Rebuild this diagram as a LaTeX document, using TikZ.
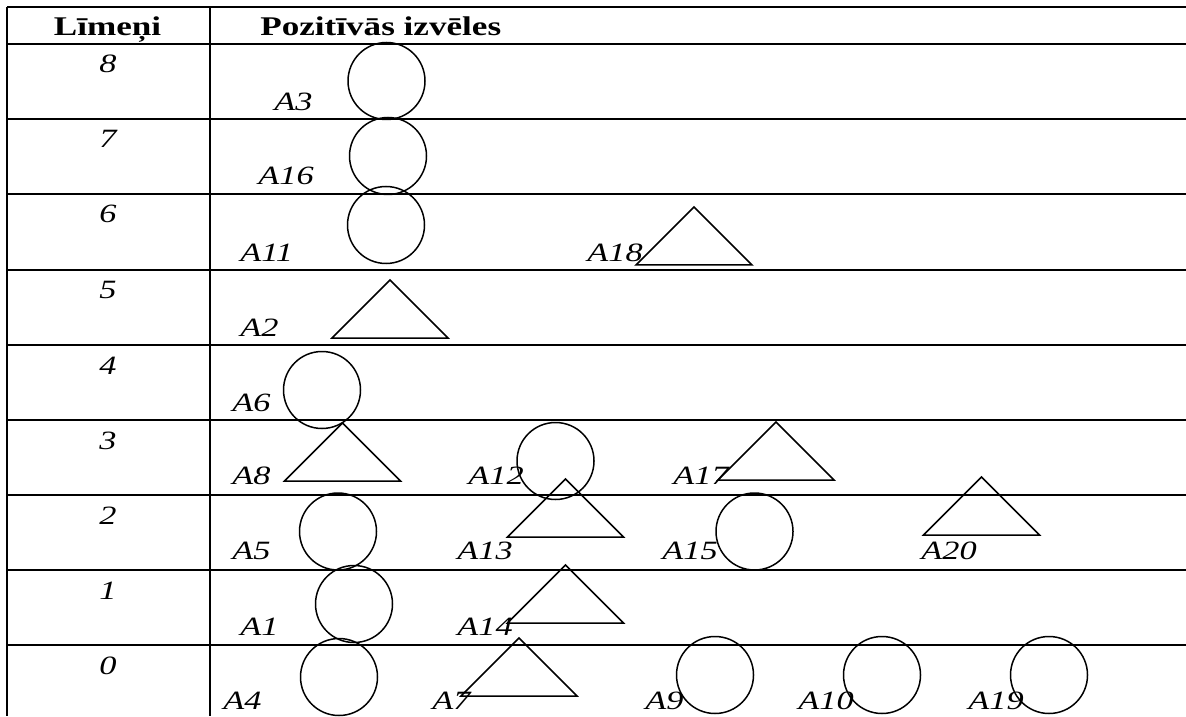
\documentclass[tikz,border=0pt]{standalone}
\usepackage{fontspec}
\setmainfont{Liberation Serif}[FakeStretch=1.3]
\tikzset{
  rule/.style={line width=1pt},
  choice/.style={circle, draw, line width=0.75pt, minimum size=38.5pt, inner sep=0pt},
  rank/.style={line width=0.75pt, line join=miter},
  lbl/.style={anchor=base west, inner sep=0pt, font=\fontsize{13.2}{15}\selectfont\itshape},
  lvl/.style={anchor=base, inner sep=0pt, font=\fontsize{13.2}{15}\selectfont\itshape},
  head/.style={inner sep=0pt, font=\fontsize{13.5}{16}\selectfont\bfseries}
}

\begin{document}
\begin{tikzpicture}[x=0.5pt, y=-0.5pt]
	\useasboundingbox (0,0) rectangle (1186,716);
	% table rules
	\foreach \y in {7,44,119,194,270,345,420,495,570,645}
	\draw[rule] (7,\y) -- (1186,\y);
	\draw[rule] (7,7) -- (7,716);
	\draw[rule] (210,7) -- (210,716);
	\node[head, anchor=base] (hlev) at (107.5,36) {Līmeņi};
	\node[head, anchor=base west] (hpos) at (260,36) {Pozitīvās izvēles};
	\foreach \l/\y in {8/44,7/119,6/194,5/270,4/345,3/420,2/495,1/570,0/645}
	\node[lvl] (lev\l) at (108,\y+29) {\l};
	% names
	\foreach \n/\x/\y in {A3/274/111, A16/258/185, A11/240/262, A18/587/262,
	  A2/240/336, A6/232/411, A8/232/484, A12/468/484, A17/673/484,
	  A5/232/559, A13/457/559, A15/662/559, A20/921/559,
	  A1/240/635, A14/457/635, A4/223/709, A7/432/709, A9/645/709,
	  A10/798/709, A19/968/709}
	\node[lbl] (l\n) at (\x,\y) {\n};
	% circles
	\foreach \n/\x/\y in {A3/386.5/81, A16/388/156, A11/386/225, A6/322/390,
	  A12/555.5/461, A5/338/531.5, A15/754.5/531.5, A1/354/604,
	  A4/339/677, A9/715/675, A10/882/675, A19/1049/675}
	\node[choice] (c\n) at (\x,\y) {};
	% triangles, given by the middle of the base
	\foreach \n/\x/\y in {A18/694/265, A2/390/338, A8/342.5/481, A17/776/480,
	  A13/565.5/537, A20/981.5/535, A14/565.5/623, A7/519/696}
	\draw[rank] (\x,\y) coordinate (t\n) ++(-58,0) -- ++(116,0) -- ++(-58,-58) -- cycle;
\end{tikzpicture}
\end{document}
